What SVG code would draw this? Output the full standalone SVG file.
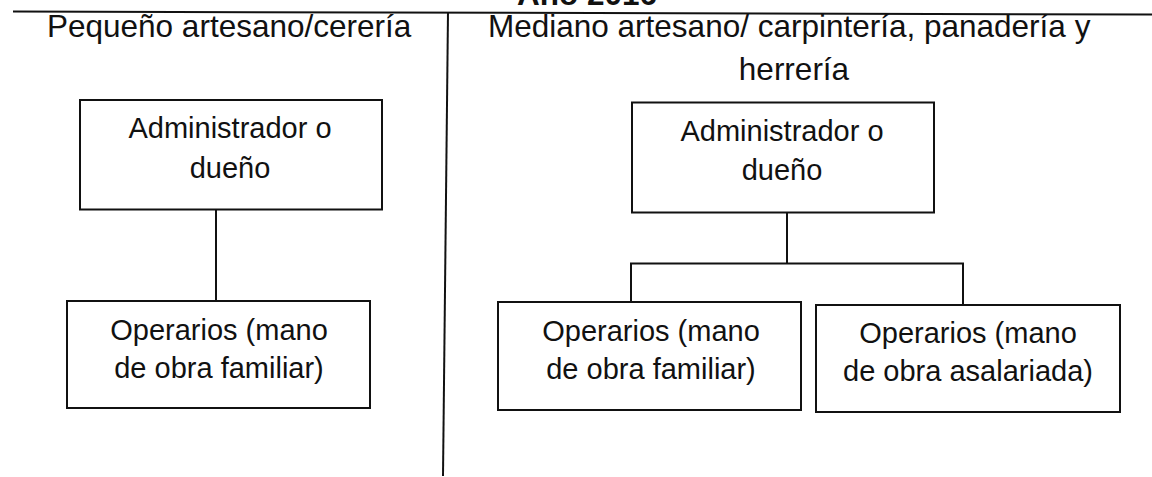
<svg xmlns="http://www.w3.org/2000/svg" width="1152" height="477" viewBox="0 0 1152 477">
<style>
  text { font-family: "Liberation Sans", Arial, sans-serif; fill: #111; }
  .hdr { font-size: 31.5px; }
  .ttl { font-size: 31.5px; font-weight: bold; }
  .lbl { font-size: 29px; text-anchor: middle; }
  .box { fill: #fff; stroke: #111; stroke-width: 2; }
  .ln { stroke: #111; stroke-width: 2; fill: none; }
</style>
<rect width="1152" height="477" fill="#fff"/>
<g id="header">
  <text class="ttl" x="587" y="4.5" text-anchor="middle">Año 2016</text>
  <line class="ln" x1="13" y1="11.5" x2="1152" y2="14.5"/>
  <line class="ln" x1="448" y1="12" x2="443" y2="476"/>
  <text class="hdr" x="47" y="37">Pequeño artesano/cerería</text>
  <text class="hdr" x="488" y="37">Mediano artesano/ carpintería, panadería y</text>
  <text class="hdr" x="794" y="80" text-anchor="middle">herrería</text>
</g>
<g id="connectors">
  <line class="ln" x1="216" y1="209" x2="216" y2="301"/>
  <polyline class="ln" points="787,212 787,263.5"/>
  <polyline class="ln" points="631,302 631,263.5 963,263.5 963,304"/>
</g>
<g id="left-admin">
  <rect class="box" x="80" y="100" width="302" height="109.5"/>
  <text class="lbl" x="230" y="138">Administrador o</text>
  <text class="lbl" x="230" y="178">dueño</text>
</g>
<g id="left-operarios">
  <rect class="box" x="67" y="301" width="303" height="107"/>
  <text class="lbl" x="219" y="340">Operarios (mano</text>
  <text class="lbl" x="219" y="378">de obra familiar)</text>
</g>
<g id="right-admin">
  <rect class="box" x="632" y="102.5" width="302" height="110"/>
  <text class="lbl" x="782" y="141">Administrador o</text>
  <text class="lbl" x="782" y="180">dueño</text>
</g>
<g id="right-operarios-familiar">
  <rect class="box" x="498" y="302" width="303" height="108"/>
  <text class="lbl" x="651" y="341">Operarios (mano</text>
  <text class="lbl" x="651" y="379">de obra familiar)</text>
</g>
<g id="right-operarios-asalariada">
  <rect class="box" x="816" y="305" width="304" height="107"/>
  <text class="lbl" x="968" y="343">Operarios (mano</text>
  <text class="lbl" x="968" y="381">de obra asalariada)</text>
</g>
</svg>
